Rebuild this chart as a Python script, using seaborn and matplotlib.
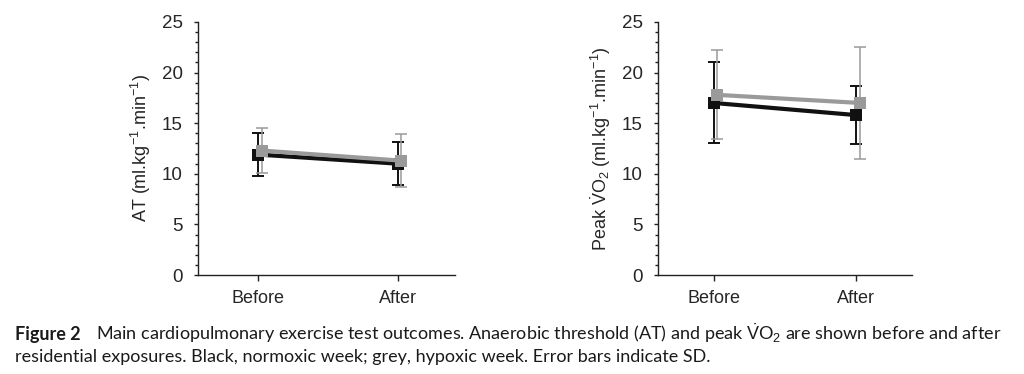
import matplotlib
matplotlib.use("Agg")
import matplotlib.pyplot as plt
import seaborn as sns
import pandas as pd
import numpy as np
from matplotlib.ticker import MultipleLocator

sns.set_theme(style="white")
plt.rcParams['font.family'] = ['Liberation Sans', 'DejaVu Sans']
plt.rcParams['mathtext.fontset'] = 'custom'
plt.rcParams['mathtext.rm'] = 'Liberation Sans'
plt.rcParams['mathtext.it'] = 'Liberation Sans:italic'
plt.rcParams['mathtext.bf'] = 'Liberation Sans:bold'

timepoints = ["Before", "After"]
groups = ["Normoxic", "Hypoxic"]

at_normoxic = [11.9, 11.0]
at_normoxic_sd = [2.1, 2.1]
at_hypoxic = [12.3, 11.3]
at_hypoxic_sd = [2.2, 2.6]

vo2_normoxic = [17.0, 15.8]
vo2_normoxic_sd = [4.0, 2.9]
vo2_hypoxic = [17.8, 17.0]
vo2_hypoxic_sd = [4.4, 5.5]

colors = {"Normoxic": "#111111", "Hypoxic": "#9a9a9a"}
offsets = {"Normoxic": 0.0, "Hypoxic": 0.025}
err_lw = {"Normoxic": 1.4, "Hypoxic": 1.1}

fig = plt.figure(figsize=(10.24, 3.74), dpi=100)
ax1 = fig.add_axes([0.1934, 0.2647, 0.2510, 0.6765])
ax2 = fig.add_axes([0.6426, 0.2647, 0.2480, 0.6765])

panels = [
    (ax1, at_normoxic, at_normoxic_sd, at_hypoxic, at_hypoxic_sd,
     r"AT (ml.kg$^{-1}$.min$^{-1}$)", (-0.43, 1.41)),
    (ax2, vo2_normoxic, vo2_normoxic_sd, vo2_hypoxic, vo2_hypoxic_sd,
     r"Peak $\dot{\mathrm{V}}$O$_2$ (ml.kg$^{-1}$.min$^{-1}$)", (-0.39, 1.39)),
]

for ax, nm, nm_sd, hy, hy_sd, ylabel, xlim in panels:
    rows = []
    for g, vals, sds in [("Normoxic", nm, nm_sd), ("Hypoxic", hy, hy_sd)]:
        for i, (v, s) in enumerate(zip(vals, sds)):
            rows.append({"x": i + offsets[g], "value": v, "sd": s, "group": g})
    df = pd.DataFrame(rows)
    for g in groups:
        sub = df[df.group == g]
        ax.errorbar(sub["x"], sub["value"], yerr=sub["sd"], fmt="none",
                    ecolor=colors[g], elinewidth=err_lw[g], capsize=4,
                    capthick=err_lw[g], zorder=2)
    sns.lineplot(data=df, x="x", y="value", hue="group", hue_order=groups,
                 palette=colors, marker="s", markersize=8, markeredgewidth=0,
                 linewidth=3, legend=False, ax=ax, zorder=3)
    ax.set_xlim(*xlim)
    ax.set_ylim(0, 25)
    ax.set_xticks([0, 1])
    ax.set_xticklabels(timepoints, fontsize=13)
    ax.set_yticks(range(0, 26, 5))
    ax.tick_params(axis='y', labelsize=13.5, direction='out', length=3, width=1,
                   left=True, color="#222222", pad=8)
    ax.tick_params(axis='x', direction='out', length=4, width=1, bottom=True,
                   color="#222222", pad=7)
    ax.yaxis.set_minor_locator(MultipleLocator(1))
    ax.tick_params(axis='y', which='minor', direction='out', length=2, width=1,
                   left=True, color="#222222")
    ax.set_xlabel("")
    ax.set_ylabel(ylabel, fontsize=13, labelpad=6)
    for sp in ["top", "right"]:
        ax.spines[sp].set_visible(False)
    for sp in ["left", "bottom"]:
        ax.spines[sp].set_color("#222222")
        ax.spines[sp].set_linewidth(1)

cap_font = ["Lato", "DejaVu Sans"]
fig.text(0.0146, 0.091, "Figure 2", fontsize=13.0, fontweight="bold",
         family=cap_font, color="#1a1a1a", va="baseline")
fig.text(0.094, 0.091,
         r"Main cardiopulmonary exercise test outcomes. Anaerobic threshold (AT) and peak $\dot{\mathrm{V}}$O$_2$ are shown before and after",
         fontsize=13.0, family=cap_font, color="#1a1a1a", va="baseline")
fig.text(0.0146, 0.033,
         "residential exposures. Black, normoxic week; grey, hypoxic week. Error bars indicate SD.",
         fontsize=13.0, family=cap_font, color="#1a1a1a", va="baseline")

fig.savefig("out.png", dpi=100, facecolor="white")
